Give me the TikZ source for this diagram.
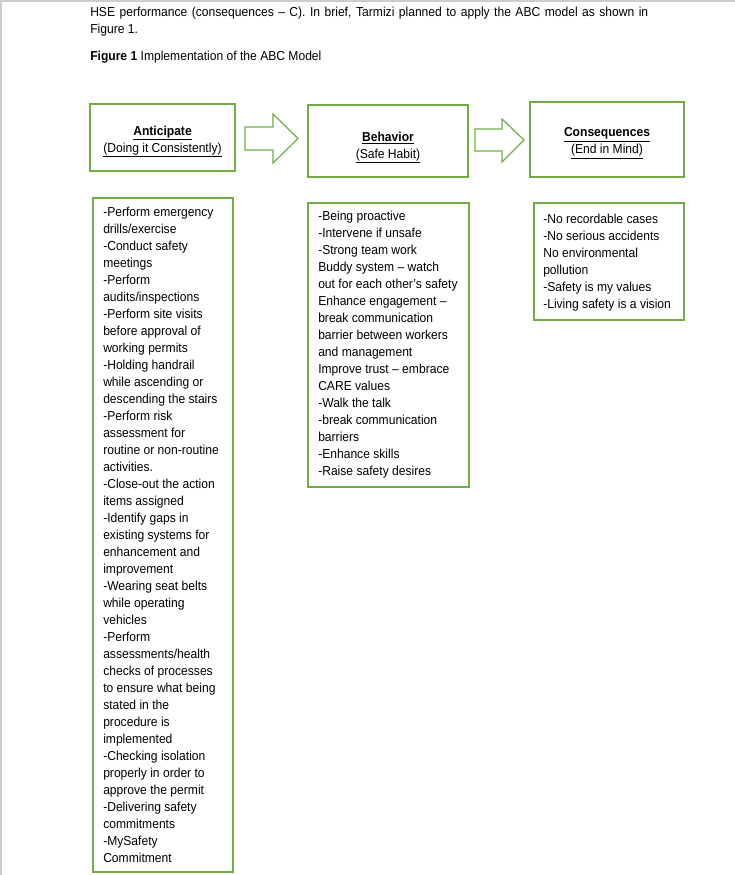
\documentclass[tikz,border=0pt]{standalone}
\usepackage{fontspec}
\setmainfont{Liberation Sans}[FakeStretch=0.93]
\definecolor{boxgreen}{RGB}{112,173,71}
\definecolor{framegray}{RGB}{205,205,205}
\newcommand{\fs}{\fontsize{9.75}{12.75}\selectfont}
\newcommand{\headtxt}[2]{\underline{\textbf{#1}}\\\underline{#2}}

\begin{document}
\begin{tikzpicture}[x=0.75pt,y=-0.75pt,
  hbox/.style={draw=boxgreen,line width=0.9pt},
  htext/.style={align=center,inner sep=0pt,font=\fs},
  lbox/.style={draw=boxgreen,line width=0.9pt,inner sep=0pt},
  ltext/.style={align=left,anchor=north west,inner sep=0pt,font=\fs},
  barrow/.style={draw=boxgreen,line width=0.9pt,fill=white}]
  \useasboundingbox (0,0) rectangle (735,875);
  % ---------- page edge ----------
  \draw[framegray,line width=1.1pt] (0.8,875) -- (0.8,0.8) -- (735,0.8);
  % ---------- running text ----------
  \node[ltext,align=justify,text width=418.5pt] (intro) at (90,7) {HSE performance (consequences – C). In brief, Tarmizi planned to apply the ABC model as shown in Figure 1.};
  \node[ltext] (caption) at (90,50.5) {\textbf{Figure 1} Implementation of the ABC Model};
  % ---------- heading boxes ----------
  \node[hbox,minimum width=108.75pt,minimum height=50.25pt] (ant) at (162.5,137.5) {};
  \node[hbox,minimum width=120pt,minimum height=54pt] (beh) at (388,141) {};
  \node[hbox,minimum width=115.5pt,minimum height=56.25pt] (con) at (607,139.5) {};
  \node[htext] (antlabel) at (162.5,141.5) {\headtxt{Anticipate}{(Doing it Consistently)}};
  \node[htext] (behlabel) at (388,147.5) {\headtxt{Behavior}{(Safe Habit)}};
  \node[htext] (conlabel) at (607,143) {\headtxt{Consequences}{(End in Mind)}};
  % ---------- block arrows ----------
  \draw[barrow] (245,127) -- (273,127) -- (273,114) -- (298,138.5) -- (273,163) -- (273,150) -- (245,150) -- cycle;
  \draw[barrow] (475,129) -- (502,129) -- (502,119) -- (524,140) -- (502,162) -- (502,151) -- (475,151) -- cycle;
  % ---------- list boxes ----------
  \node[lbox,minimum width=105pt,minimum height=505.5pt] (antlist) at (163,535) {};
  \node[lbox,minimum width=120.75pt,minimum height=213pt] (behlist) at (388.5,345) {};
  \node[lbox,minimum width=112.5pt,minimum height=87.75pt] (conlist) at (609,261.5) {};
  \node[ltext] (anttext) at (103,207) {-Perform emergency\\drills/exercise\\-Conduct safety\\meetings\\-Perform\\audits/inspections\\-Perform site visits\\before approval of\\working permits\\-Holding handrail\\while ascending or\\descending the stairs\\-Perform risk\\assessment for\\routine or non-routine\\activities.\\-Close-out the action\\items assigned\\-Identify gaps in\\existing systems for\\enhancement and\\improvement\\-Wearing seat belts\\while operating\\vehicles\\-Perform\\assessments/health\\checks of processes\\to ensure what being\\stated in the\\procedure is\\implemented\\-Checking isolation\\properly in order to\\approve the permit\\-Delivering safety\\commitments\\-MySafety\\Commitment};
  \node[ltext] (behtext) at (318,211) {-Being proactive\\-Intervene if unsafe\\-Strong team work\\Buddy system – watch\\out for each other’s safety\\Enhance engagement –\\break communication\\barrier between workers\\and management\\Improve trust – embrace\\CARE values\\-Walk the talk\\-break communication\\barriers\\-Enhance skills\\-Raise safety desires};
  \node[ltext] (context) at (543,214) {-No recordable cases\\-No serious accidents\\No environmental\\pollution\\-Safety is my values\\-Living safety is a vision};
\end{tikzpicture}
\end{document}
